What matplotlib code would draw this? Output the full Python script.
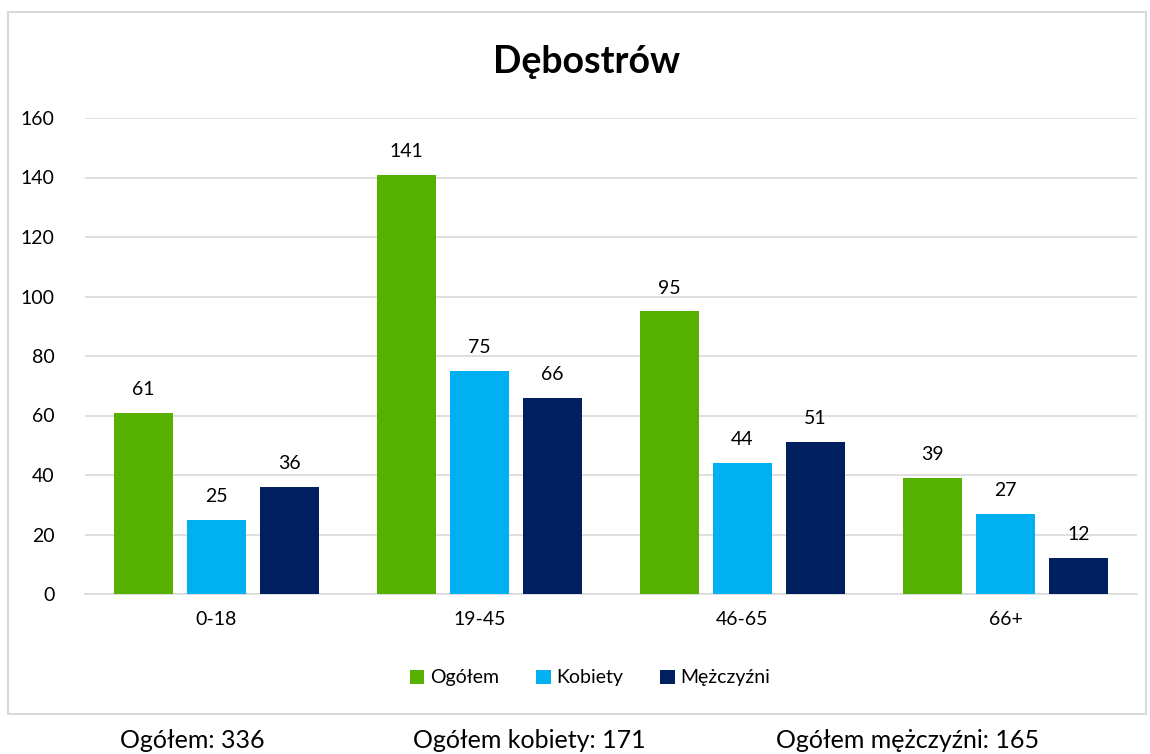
import matplotlib
matplotlib.use("Agg")
import matplotlib.pyplot as plt
import numpy as np
from matplotlib.patches import Rectangle

categories = ["0-18", "19-45", "46-65", "66+"]
series_names = ["Ogółem", "Kobiety", "Mężczyźni"]
ogolem = [61, 141, 95, 39]
kobiety = [25, 75, 44, 27]
mezczyzni = [36, 66, 51, 12]
colors = ["#56B000", "#00B0F0", "#002060"]
title = "Dębostrów"
footer = ["Ogółem: 336", "Ogółem kobiety: 171", "Ogółem mężczyźni: 165"]
yticks = [0, 20, 40, 60, 80, 100, 120, 140, 160]

plt.rcParams['font.family'] = ['Lato', 'DejaVu Sans']

fig = plt.figure(figsize=(11.5, 7.54), dpi=100)
# outer border
fig.patches.append(Rectangle((8/1150, 1-714/754), (1146-8)/1150, (714-12)/754,
                             transform=fig.transFigure, fill=False,
                             edgecolor="#d9d9d9", linewidth=1.5))

ax = fig.add_axes([85/1150, 160/754, (1137-85)/1150, (594-118)/754])
x = np.arange(len(categories))
width = 0.224
offset = 0.278
data = [ogolem, kobiety, mezczyzni]
for i, (vals, c, name) in enumerate(zip(data, colors, series_names)):
    bars = ax.bar(x + (i - 1) * offset, vals, width, color=c, label=name, zorder=3)
    for b, v in zip(bars, vals):
        ax.text(b.get_x() + b.get_width()/2, v + 5, str(v), ha="center", va="bottom",
                fontsize=14, color="#000000")

ax.set_xlim(-0.5, 3.5)
ax.set_ylim(0, 160)
ax.set_yticks(yticks)
ax.set_xticks(x)
ax.set_xticklabels(categories)
ax.tick_params(axis="both", length=0, labelsize=14, colors="#000000")
ax.tick_params(axis="y", pad=22)
ax.tick_params(axis="x", pad=12)
ax.grid(axis="y", color="#d9d9d9", linewidth=1.2, zorder=0)
for s in ["top", "right", "left"]:
    ax.spines[s].set_visible(False)
ax.spines["bottom"].set_color("#d9d9d9")
ax.spines["bottom"].set_linewidth(1.2)

fig.text(587/1150, 1-62/754, title, ha="center", va="center", fontsize=27, fontweight="bold")

leg = fig.legend(loc="center", bbox_to_anchor=(590/1150, 1-678/754), ncol=3, frameon=False,
                 fontsize=14, handlelength=0.75, handleheight=0.75, handletextpad=0.3,
                 columnspacing=1.9)

for txt, cx in zip(footer, [192, 529, 908]):
    fig.text(cx/1150, 1-740/754, txt, ha="center", va="center", fontsize=18)

fig.savefig("out.png", dpi=100)
